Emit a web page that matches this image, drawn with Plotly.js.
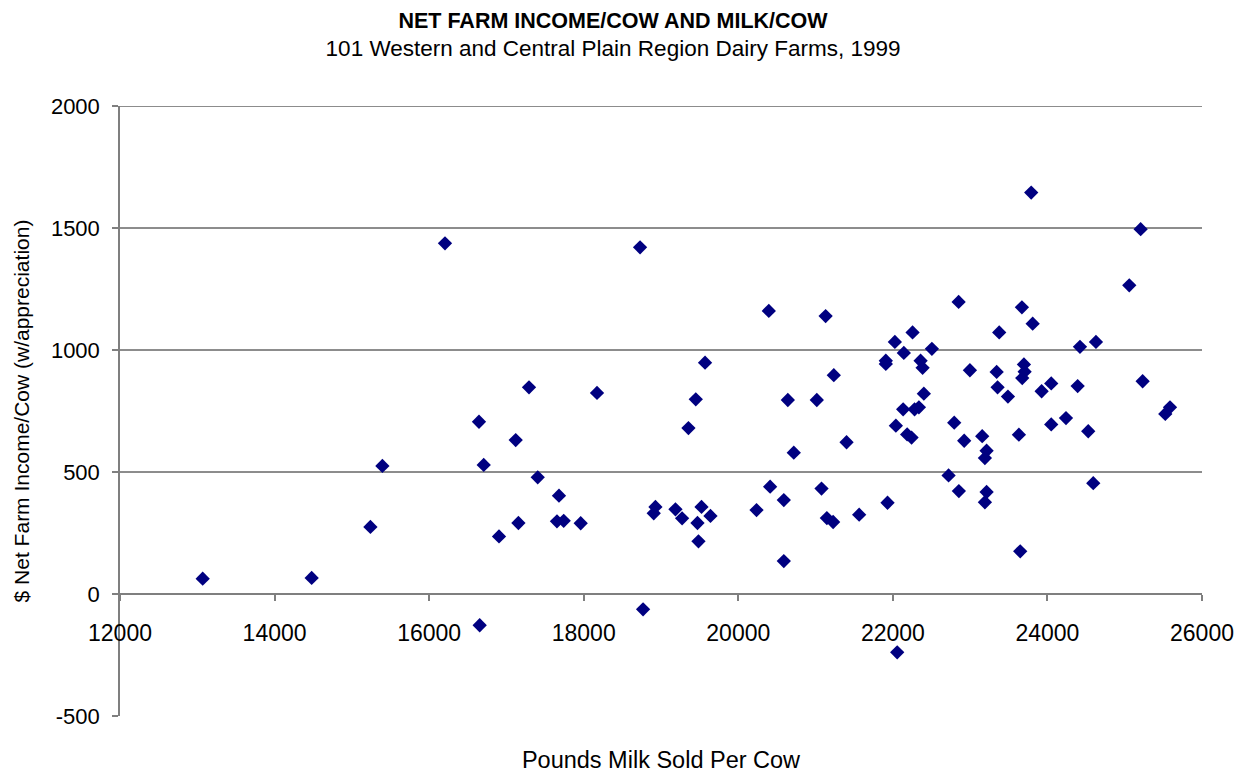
<!DOCTYPE html>
<html>
<head>
<meta charset="utf-8">
<script src="https://cdn.plot.ly/plotly-3.0.1.min.js"></script>
<style>
  html, body { margin: 0; padding: 0; background: #ffffff; }
  #chart { width: 1241px; height: 773px; }
</style>
</head>
<body>
<div id="chart"></div>
<script>
// Pounds of milk sold per cow (x) and net farm income per cow with appreciation (y)
const milkPerCow = [
  13070, 14480, 15240, 15395, 16205, 16645, 16706, 16654, 16904, 17120,
  17155, 17292, 17405, 17680, 17654, 17741, 17961, 18172, 18729, 18768,
  18906, 18928, 19187, 19273, 19355, 19450, 19524, 19472, 19485, 19570,
  19640, 20236, 20395, 20412, 20589, 20589, 20641, 20718, 21016, 21077,
  21130, 21146, 21227, 21236, 21401, 21564, 21909, 21909, 21931, 22026,
  22039, 22056, 22133, 22142, 22185, 22242, 22255, 22281, 22337, 22359,
  22385, 22401, 22505, 22721, 22794, 22851, 22854, 22923, 22997, 23156,
  23191, 23191, 23213, 23213, 23343, 23376, 23355, 23489, 23648, 23631,
  23670, 23674, 23696, 23705, 23790, 23809, 23925, 24049, 24049, 24240,
  24391, 24421, 24528, 24593, 24628, 25059, 25206, 25232, 25525, 25586
];
const netIncomePerCow = [
  63, 66, 275, 525, 1437, 706, 529, -128, 236, 631,
  291, 847, 478, 403, 298, 300, 290, 824, 1421, -63,
  331, 357, 347, 310, 680, 798, 357, 291, 216, 948,
  320, 344, 1160, 440, 385, 135, 795, 579, 795, 432,
  1139, 311, 295, 897, 622, 325, 956, 943, 374, 1033,
  690, -239, 757, 988, 654, 641, 1072, 757, 765, 956,
  927, 821, 1005, 486, 702, 1197, 422, 628, 917, 647,
  376, 557, 418, 587, 910, 1072, 847, 809, 175, 653,
  1175, 885, 941, 911, 1645, 1108, 831, 695, 863, 721,
  852, 1013, 667, 454, 1033, 1265, 1495, 872, 738, 765
];
const xTicks = [12000, 14000, 16000, 18000, 20000, 22000, 24000, 26000];
const yTicks = [-500, 0, 500, 1000, 1500, 2000];
const gridValues = [500, 1000, 1500, 2000];

const FONT = "'Liberation Sans', Arial, Helvetica, sans-serif";

const trace = {
  type: 'scatter',
  mode: 'markers',
  x: milkPerCow,
  y: netIncomePerCow,
  marker: { symbol: 'diamond', size: 11, color: '#000080', line: { width: 0 } },
  hoverinfo: 'x+y',
  showlegend: false
};

const gridShapes = gridValues.map(v => ({
  type: 'line', xref: 'paper', yref: 'y',
  x0: 0, x1: 1, y0: v, y1: v,
  line: { color: '#1a1a1a', width: 1 },
  layer: 'below'
}));

const layout = {
  width: 1241,
  height: 773,
  paper_bgcolor: '#ffffff',
  plot_bgcolor: '#ffffff',
  font: { family: FONT, size: 22, color: '#000000' },
  margin: { l: 120, r: 39, t: 106, b: 57, pad: 0 },
  title: {
    text: '<b>NET FARM INCOME/COW AND MILK/COW</b><br><span style="font-size:22.5px">101 Western and Central Plain Region Dairy Farms, 1999</span>',
    font: { family: FONT, size: 21.5, color: '#000000' },
    x: 0.494, xref: 'container', xanchor: 'center',
    y: 0.964, yref: 'container', yanchor: 'top'
  },
  xaxis: {
    range: [12000, 26000],
    tickvals: xTicks,
    ticktext: xTicks.map(String),
    showgrid: false,
    zeroline: false,
    showline: true,
    linecolor: '#7f7f7f',
    linewidth: 1.5,
    ticks: 'outside',
    ticklen: 6,
    tickwidth: 1.5,
    tickcolor: '#7f7f7f',
    tickfont: { family: FONT, size: 23, color: '#000000' },
    anchor: 'free',
    position: 0.2,
    ticklabelstandoff: 13,
    title: { text: 'Pounds Milk Sold Per Cow', font: { family: FONT, size: 23.5, color: '#000000' }, standoff: 108 },
    automargin: false
  },
  yaxis: {
    range: [-500, 2000],
    tickvals: yTicks,
    ticktext: yTicks.map(String),
    showgrid: false,
    zeroline: false,
    showline: true,
    linecolor: '#7f7f7f',
    linewidth: 1.5,
    ticks: 'outside',
    ticklen: 6,
    tickwidth: 1.5,
    tickcolor: '#7f7f7f',
    tickfont: { family: FONT, size: 22, color: '#000000' },
    ticklabelstandoff: 8,
    title: { text: '$ Net Farm Income/Cow (w/appreciation)', font: { family: FONT, size: 21, color: '#000000' }, standoff: 16 },
    automargin: false
  },
  shapes: gridShapes,
  hovermode: 'closest'
};

Plotly.newPlot('chart', [trace], layout, { displayModeBar: false, responsive: false });
</script>
</body>
</html>
